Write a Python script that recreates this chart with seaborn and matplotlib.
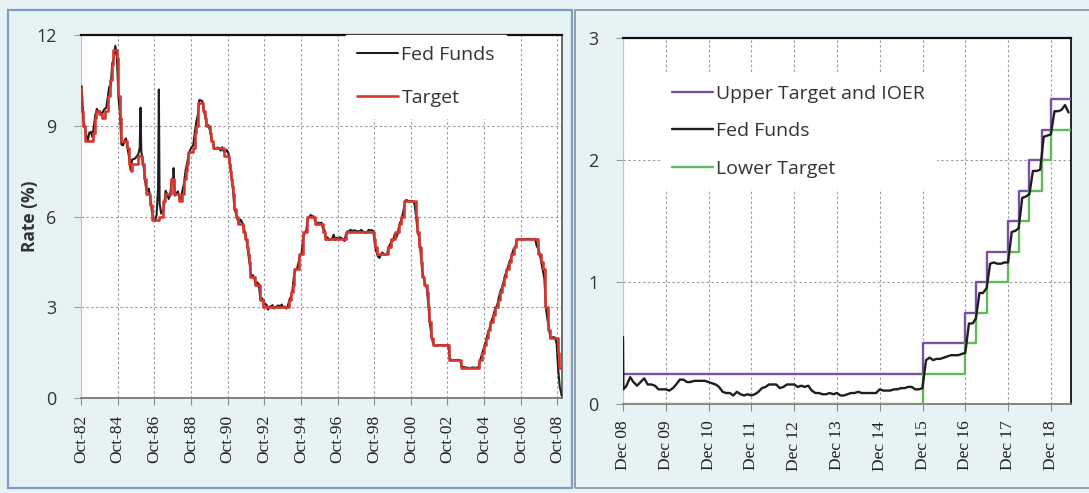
import matplotlib
matplotlib.use("Agg")
import matplotlib.pyplot as plt
from matplotlib.patches import Rectangle
import pandas as pd
import seaborn as sns

# ---------------- data: left panel (Oct 1982 - Dec 2008) ----------------
ff_left_start = "1982-10-01"
ff_left_values = [
    10.30, 9.20, 8.95,
    8.68, 8.51, 8.77, 8.80, 8.63, 8.98, 9.37, 9.56, 9.45, 9.48, 9.34, 9.47,
    9.56, 9.59, 9.91, 10.29, 10.32, 11.06, 11.23, 11.64, 11.30, 9.99, 9.43, 8.38,
    8.35, 8.50, 8.58, 8.27, 7.97, 7.53, 7.88, 7.90, 7.92, 7.99, 8.05, 8.27,
    8.14, 7.86, 7.48, 6.99, 6.85, 6.92, 6.56, 6.17, 5.89, 5.85, 6.04, 6.91,
    6.43, 6.10, 6.13, 6.37, 6.85, 6.73, 6.58, 6.73, 7.22, 7.29, 6.69, 6.77,
    6.83, 6.58, 6.58, 6.87, 7.09, 7.51, 7.75, 8.01, 8.19, 8.30, 8.35, 8.76,
    9.12, 9.36, 9.85, 9.84, 9.81, 9.53, 9.24, 8.99, 9.02, 8.84, 8.55, 8.45,
    8.23, 8.24, 8.28, 8.26, 8.18, 8.29, 8.15, 8.13, 8.20, 8.11, 7.81, 7.31,
    6.91, 6.25, 6.12, 5.91, 5.78, 5.90, 5.82, 5.66, 5.45, 5.21, 4.81, 4.43,
    4.03, 4.06, 3.98, 3.73, 3.82, 3.76, 3.25, 3.30, 3.22, 3.10, 3.09, 2.92,
    3.02, 3.03, 3.07, 2.96, 3.00, 3.04, 3.06, 3.03, 3.09, 2.99, 3.02, 2.96,
    3.05, 3.25, 3.34, 3.56, 4.01, 4.25, 4.26, 4.47, 4.73, 4.76, 5.29, 5.45,
    5.53, 5.92, 5.98, 6.05, 6.01, 6.00, 5.85, 5.74, 5.80, 5.76, 5.80, 5.60,
    5.56, 5.22, 5.31, 5.22, 5.24, 5.27, 5.40, 5.22, 5.30, 5.24, 5.31, 5.29,
    5.25, 5.19, 5.39, 5.51, 5.50, 5.56, 5.52, 5.54, 5.54, 5.50, 5.52, 5.50,
    5.56, 5.51, 5.49, 5.45, 5.49, 5.56, 5.54, 5.55, 5.51, 5.07, 4.83, 4.68,
    4.63, 4.76, 4.81, 4.74, 4.74, 4.76, 4.99, 5.07, 5.22, 5.20, 5.42, 5.30,
    5.45, 5.73, 5.85, 6.02, 6.27, 6.53, 6.54, 6.50, 6.52, 6.51, 6.51, 6.40,
    5.98, 5.49, 5.31, 4.80, 4.21, 3.97, 3.77, 3.65, 3.07, 2.49, 2.09, 1.82,
    1.73, 1.74, 1.73, 1.75, 1.75, 1.75, 1.73, 1.74, 1.75, 1.75, 1.34, 1.24,
    1.24, 1.26, 1.25, 1.26, 1.26, 1.22, 1.01, 1.03, 1.01, 1.01, 1.00, 0.98,
    1.00, 1.01, 1.00, 1.00, 1.00, 1.03, 1.26, 1.43, 1.61, 1.76, 1.93, 2.16,
    2.28, 2.50, 2.63, 2.79, 3.00, 3.04, 3.26, 3.50, 3.62, 3.78, 4.00, 4.16,
    4.29, 4.49, 4.59, 4.79, 4.94, 4.99, 5.24, 5.25, 5.25, 5.25, 5.25, 5.24,
    5.25, 5.26, 5.26, 5.25, 5.25, 5.25, 5.26, 5.02, 4.94, 4.76, 4.49, 4.24,
    3.94, 2.98, 2.61, 2.28, 1.98, 2.00, 2.01, 2.00, 1.81, 0.97, 0.39, 0.16,
]
ff_left_extra_dates = ["1985-12-31", "1986-12-31", "1987-10-20", "2008-12-22"]
ff_left_extra_values = [9.6, 10.2, 7.6, 0.08]

target_dates = [
    "1982-10-01", "1982-10-08", "1982-11-19", "1982-12-14",
    "1983-06-01", "1983-07-01", "1983-08-01", "1983-09-15", "1983-11-15",
    "1984-01-15", "1984-04-01", "1984-05-01", "1984-06-01", "1984-07-01",
    "1984-09-15", "1984-10-10", "1984-11-10", "1984-12-10",
    "1985-02-01", "1985-04-01", "1985-05-20", "1985-06-15", "1985-07-15", "1985-11-20",
    "1986-01-20", "1986-03-07", "1986-04-21", "1986-07-11", "1986-08-21",
    "1987-01-05", "1987-04-01", "1987-05-01", "1987-09-04", "1987-10-22", "1987-11-04",
    "1988-01-28", "1988-03-30", "1988-05-09", "1988-05-25", "1988-06-22", "1988-07-19",
    "1988-08-09", "1988-11-17", "1988-12-15",
    "1989-01-05", "1989-02-09", "1989-02-24", "1989-06-06", "1989-07-07", "1989-07-27",
    "1989-10-18", "1989-11-06", "1989-12-20",
    "1990-07-13", "1990-10-29", "1990-11-14", "1990-12-07", "1990-12-19",
    "1991-01-09", "1991-02-01", "1991-03-08", "1991-04-30", "1991-08-06", "1991-09-13",
    "1991-10-31", "1991-11-06", "1991-12-06", "1991-12-20",
    "1992-04-09", "1992-07-02", "1992-09-04",
    "1994-02-04", "1994-03-22", "1994-04-18", "1994-05-17", "1994-08-16", "1994-11-15",
    "1995-02-01", "1995-07-06", "1995-12-19",
    "1996-01-31", "1997-03-25",
    "1998-09-29", "1998-10-15", "1998-11-17",
    "1999-06-30", "1999-08-24", "1999-11-16",
    "2000-02-02", "2000-03-21", "2000-05-16",
    "2001-01-03", "2001-01-31", "2001-03-20", "2001-04-18", "2001-05-15", "2001-06-27",
    "2001-08-21", "2001-09-17", "2001-10-02", "2001-11-06", "2001-12-11",
    "2002-11-06", "2003-06-25",
    "2004-06-30", "2004-08-10", "2004-09-21", "2004-11-10", "2004-12-14",
    "2005-02-02", "2005-03-22", "2005-05-03", "2005-06-30", "2005-08-09", "2005-09-20",
    "2005-11-01", "2005-12-13",
    "2006-01-31", "2006-03-28", "2006-05-10", "2006-06-29",
    "2007-09-18", "2007-10-31", "2007-12-11",
    "2008-01-22", "2008-01-30", "2008-03-18", "2008-04-30", "2008-10-08", "2008-10-29",
    "2008-12-28",
]
target_values = [
    10.25, 9.5, 9.0, 8.5,
    8.75, 9.25, 9.5, 9.375, 9.25,
    9.5, 10.0, 10.5, 11.0, 11.5,
    11.25, 10.0, 9.25, 8.5,
    8.5, 8.25, 7.75, 7.5, 7.75, 8.0,
    7.75, 7.25, 6.75, 6.375, 5.875,
    6.0, 6.5, 6.75, 7.25, 6.875, 6.75,
    6.5, 6.75, 7.0, 7.25, 7.5, 7.75,
    8.125, 8.25, 8.75,
    9.0, 9.25, 9.75, 9.5, 9.25, 9.0,
    8.75, 8.5, 8.25,
    8.0, 7.75, 7.5, 7.25, 7.0,
    6.75, 6.25, 6.0, 5.75, 5.5, 5.25,
    5.0, 4.75, 4.5, 4.0,
    3.75, 3.25, 3.0,
    3.25, 3.5, 3.75, 4.25, 4.75, 5.5,
    6.0, 5.75, 5.5,
    5.25, 5.5,
    5.25, 5.0, 4.75,
    5.0, 5.25, 5.5,
    5.75, 6.0, 6.5,
    6.0, 5.5, 5.0, 4.5, 4.0, 3.75,
    3.5, 3.0, 2.5, 2.0, 1.75,
    1.25, 1.0,
    1.25, 1.5, 1.75, 2.0, 2.25,
    2.5, 2.75, 3.0, 3.25, 3.5, 3.75,
    4.0, 4.25,
    4.5, 4.75, 5.0, 5.25,
    4.75, 4.5, 4.25,
    3.5, 3.0, 2.25, 2.0, 1.5, 1.0,
    1.0,
]
left_tick_dates = ["1982-10-01", "1984-10-01", "1986-10-01", "1988-10-01", "1990-10-01",
                   "1992-10-01", "1994-10-01", "1996-10-01", "1998-10-01", "2000-10-01",
                   "2002-10-01", "2004-10-01", "2006-10-01", "2008-10-01"]
left_tick_labels = ["Oct-82", "Oct-84", "Oct-86", "Oct-88", "Oct-90", "Oct-92", "Oct-94",
                    "Oct-96", "Oct-98", "Oct-00", "Oct-02", "Oct-04", "Oct-06", "Oct-08"]
left_yticks = [0, 3, 6, 9, 12]

# ---------------- data: right panel (Dec 2008 - mid 2019) ----------------
ff_right_start = "2009-01-01"
ff_right_values = [
    0.15, 0.22, 0.18, 0.15, 0.18, 0.21, 0.16, 0.16, 0.15, 0.12, 0.12, 0.12,
    0.11, 0.13, 0.16, 0.20, 0.20, 0.18, 0.18, 0.19, 0.19, 0.19, 0.19, 0.18,
    0.17, 0.16, 0.14, 0.10, 0.09, 0.09, 0.07, 0.10, 0.08, 0.07, 0.08, 0.07,
    0.08, 0.10, 0.13, 0.14, 0.16, 0.16, 0.16, 0.13, 0.14, 0.16, 0.16, 0.16,
    0.14, 0.15, 0.14, 0.15, 0.11, 0.09, 0.09, 0.08, 0.08, 0.09, 0.08, 0.09,
    0.07, 0.07, 0.08, 0.09, 0.09, 0.10, 0.09, 0.09, 0.09, 0.09, 0.09, 0.12,
    0.11, 0.11, 0.11, 0.12, 0.12, 0.13, 0.13, 0.14, 0.14, 0.12, 0.12, 0.13,
    0.36, 0.38, 0.36, 0.37, 0.37, 0.38, 0.39, 0.40, 0.40, 0.40, 0.41, 0.42,
    0.66, 0.66, 0.70, 0.91, 0.91, 0.95, 1.15, 1.16, 1.15, 1.15, 1.16, 1.16,
    1.41, 1.42, 1.44, 1.69, 1.70, 1.72, 1.91, 1.91, 1.92, 2.19, 2.20, 2.21,
    2.40, 2.40, 2.41, 2.45, 2.39,
]
ff_right_extra_dates = ["2008-12-16", "2008-12-19"]
ff_right_extra_values = [0.55, 0.12]

upper_dates = ["2008-12-16", "2015-12-17", "2016-12-15", "2017-03-16", "2017-06-15",
               "2017-12-14", "2018-03-22", "2018-06-14", "2018-09-27", "2018-12-20",
               "2019-06-05"]
upper_values = [0.25, 0.50, 0.75, 1.00, 1.25, 1.50, 1.75, 2.00, 2.25, 2.50, 2.50]
lower_values = [0.00, 0.25, 0.50, 0.75, 1.00, 1.25, 1.50, 1.75, 2.00, 2.25, 2.25]

right_tick_dates = ["2008-12-16", "2009-12-16", "2010-12-16", "2011-12-16", "2012-12-16",
                    "2013-12-16", "2014-12-16", "2015-12-16", "2016-12-16", "2017-12-16",
                    "2018-12-16"]
right_tick_labels = ["Dec 08", "Dec 09", "Dec 10", "Dec 11", "Dec 12", "Dec 13",
                     "Dec 14", "Dec 15", "Dec 16", "Dec 17", "Dec 18"]
right_yticks = [0, 1, 2, 3]

# ---------------- build frames ----------------
mid = pd.Timedelta(days=14)
ffL = pd.DataFrame({
    "date": list(pd.date_range(ff_left_start, periods=len(ff_left_values), freq="MS") + mid)
    + list(pd.to_datetime(ff_left_extra_dates)),
    "rate": ff_left_values + ff_left_extra_values,
}).sort_values("date")
tgtL = pd.DataFrame({"date": pd.to_datetime(target_dates), "rate": target_values})
ffR = pd.DataFrame({
    "date": list(pd.to_datetime(ff_right_extra_dates))
    + list(pd.date_range(ff_right_start, periods=len(ff_right_values), freq="MS") + mid),
    "rate": ff_right_extra_values + ff_right_values,
}).sort_values("date")
upR = pd.DataFrame({"date": pd.to_datetime(upper_dates), "rate": upper_values})
loR = pd.DataFrame({"date": pd.to_datetime(upper_dates), "rate": lower_values})

# ---------------- styling ----------------
sns.set_style("white")
plt.rcParams["font.family"] = ["Open Sans", "DejaVu Sans"]

BG = "#e7f2f4"
W, H = 1089, 493
fig = plt.figure(figsize=(W / 100, H / 100), dpi=100, facecolor=BG)


def px_rect(x0, y0, x1, y1):
    return [x0 / W, 1 - y1 / H, (x1 - x0) / W, (y1 - y0) / H]


# outer panel frames
fig.add_artist(Rectangle((8 / W, 1 - 488 / H), (572 - 8) / W, (488 - 10) / H,
                         transform=fig.transFigure, fill=False, ec="#7f9cc2", lw=1.6))
fig.add_artist(Rectangle((575 / W, 1 - 488 / H), (1100 - 575) / W, (488 - 10) / H,
                         transform=fig.transFigure, fill=False, ec="#8d9aa6", lw=1.3))

axL = fig.add_axes(px_rect(81, 35, 562, 398))
axR = fig.add_axes(px_rect(623, 38, 1071, 404))

C_FF = "#1e1e1e"
C_RED = "#d8372f"
C_PUR = "#7b4fa8"
C_GRN = "#5fbb55"

sns.lineplot(data=ffL, x="date", y="rate", ax=axL, color=C_FF, lw=1.5,
             label="Fed Funds", zorder=3)
sns.lineplot(data=tgtL, x="date", y="rate", ax=axL, color=C_RED, lw=1.9,
             drawstyle="steps-post", label="Target", zorder=4)

sns.lineplot(data=upR, x="date", y="rate", ax=axR, color=C_PUR, lw=1.7,
             drawstyle="steps-post", label="Upper Target and IOER", zorder=3)
sns.lineplot(data=ffR, x="date", y="rate", ax=axR, color=C_FF, lw=1.7,
             label="Fed Funds", zorder=4)
sns.lineplot(data=loR, x="date", y="rate", ax=axR, color=C_GRN, lw=1.7,
             drawstyle="steps-post", label="Lower Target", zorder=3)

for ax, tdates, tlabels, yt, xl in [
    (axL, left_tick_dates, left_tick_labels, left_yticks, ("1982-10-01", "2008-12-31")),
    (axR, right_tick_dates, right_tick_labels, right_yticks, ("2008-12-16", "2019-06-05")),
]:
    ax.set_facecolor("white")
    ax.set_xlim(pd.to_datetime(xl[0]), pd.to_datetime(xl[1]))
    ax.set_ylim(yt[0], yt[-1])
    ax.set_xticks(pd.to_datetime(tdates))
    ax.set_xticklabels(tlabels, rotation=90, family="Liberation Serif", fontsize=12.5,
                       color="#222222")
    ax.set_yticks(yt)
    ax.set_yticklabels([str(v) for v in yt], fontsize=13, color="#333333")
    ax.tick_params(axis="x", length=5, width=0.8, color="#888888", pad=7, direction="out",
                   bottom=True)
    ax.tick_params(axis="y", length=5, width=0.8, color="#999999", pad=12.5, direction="out",
                   left=True)
    ax.grid(True, color="#9c9c9c", linestyle=(0, (2.2, 2.2)), linewidth=0.8)
    ax.set_axisbelow(True)
    ax.set_xlabel("")
    ax.set_ylabel("")
    ax.spines["top"].set_color("#111111")
    ax.spines["top"].set_linewidth(1.6)
    ax.spines["bottom"].set_color("#7a7a7a")
    ax.spines["bottom"].set_linewidth(1.3)
    ax.spines["left"].set_color("#c4c4c4")
    ax.spines["left"].set_linewidth(0.8)

axL.spines["right"].set_color("#555555")
axL.spines["right"].set_linewidth(1.2)
axR.spines["right"].set_color("#222222")
axR.spines["right"].set_linewidth(1.4)

fig.text(30 / W, 1 - 216 / H, "Rate (%)", rotation=90, ha="center", va="center",
         fontsize=12.5, fontweight="bold", color="#333333")

# legends
hL, lL = axL.get_legend_handles_labels()
legL = axL.legend(hL, lL, loc="upper left", bbox_to_anchor=(346 / W, 1 - 35 / H),
                  bbox_transform=fig.transFigure, fontsize=14, frameon=True,
                  facecolor="white", edgecolor="white", framealpha=1, fancybox=False,
                  handlelength=2.1, handletextpad=0.2, labelspacing=1.3, borderpad=0.55,
                  borderaxespad=0)
for t in legL.get_texts():
    t.set_color("#333333")
legL.set_zorder(10)

hR, lR = axR.get_legend_handles_labels()
legR = axR.legend(hR, lR, loc="upper left", bbox_to_anchor=(661 / W, 1 - 74 / H),
                  bbox_transform=fig.transFigure, fontsize=14, frameon=True,
                  facecolor="white", edgecolor="white", framealpha=1, fancybox=False,
                  handlelength=2.1, handletextpad=0.2, labelspacing=1.0, borderpad=0.55,
                  borderaxespad=0)
for t in legR.get_texts():
    t.set_color("#333333")
legR.set_zorder(10)

fig.savefig("out.png", dpi=100, facecolor=BG)
